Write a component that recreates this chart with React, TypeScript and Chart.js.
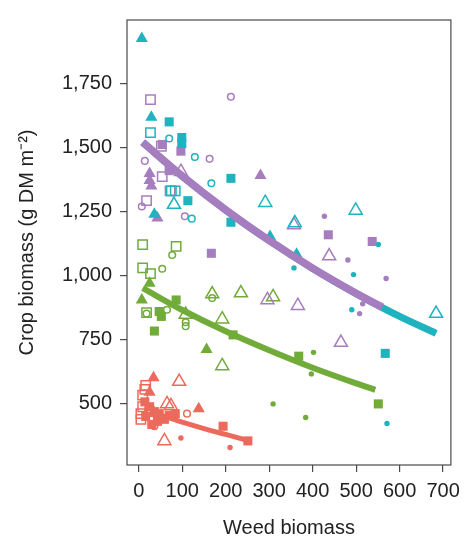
import { useEffect, useRef } from 'react';
import { Chart, registerables } from 'chart.js';

Chart.register(...registerables);

// ---------- axis ticks ----------
const xTickValues = [0, 100, 200, 300, 400, 500, 600, 700];
const yTickValues = [500, 750, 1000, 1250, 1500, 1750];

// ---------- teal group ----------
const tealFilledTriangle = [[7, 1924], [29, 1617], [36, 1239], [302, 1152], [363, 1083]];
const tealOpenTriangle = [[81, 1277], [291, 1284], [359, 1205], [499, 1254], [684, 852]];
const tealFilledSquare = [[70, 1599], [99, 1538], [99, 1515], [113, 1292], [212, 1379], [212, 1208], [567, 697]];
const tealOpenSquare = [[27, 1557], [75, 1330], [84, 1330]];
const tealOpenCircle = [[70, 1534], [129, 1462], [167, 1360], [122, 1222]];
const tealDot = [[357, 1030], [494, 1004], [551, 1121], [490, 867], [571, 424]];

// ---------- purple group ----------
const purpleFilledTriangle = [[25, 1398], [25, 1371], [29, 1349], [43, 1224], [280, 1390]];
const purpleOpenTriangle = [[97, 1405], [357, 1197], [438, 1076], [296, 905], [366, 883], [465, 739]];
const purpleFilledSquare = [[54, 1511], [97, 1485], [70, 1409], [167, 1087], [436, 1159], [537, 1133]];
const purpleOpenSquare = [[27, 1686], [52, 1504], [54, 1386], [72, 1330], [18, 1292]];
const purpleOpenCircle = [[212, 1697], [14, 1447], [163, 1455], [7, 1269], [106, 1231]];
const purpleDot = [[427, 1231], [481, 1061], [569, 989], [515, 890], [508, 852]];

// ---------- green group ----------
const greenFilledTriangle = [[25, 970], [7, 905], [156, 712]];
const greenOpenTriangle = [[108, 848], [169, 928], [192, 830], [235, 932], [309, 917], [192, 648]];
const greenFilledSquare = [[86, 905], [47, 860], [52, 841], [36, 784], [217, 769], [368, 686], [551, 500]];
const greenOpenSquare = [[9, 1121], [86, 1114], [9, 1030], [27, 1008], [18, 856]];
const greenOpenCircle = [[77, 1080], [54, 1027], [65, 867], [18, 852], [108, 818], [108, 803], [169, 913]];
const greenDot = [[309, 500], [402, 701], [397, 617], [384, 447]];

// ---------- red group ----------
const redFilledTriangle = [[34, 602], [25, 545], [138, 481]];
const redOpenTriangle = [[93, 587], [65, 500], [74, 492], [59, 356]];
const redFilledSquare = [[14, 508], [25, 489], [36, 470], [47, 462], [16, 451], [43, 432], [59, 440], [70, 455], [84, 462], [30, 420], [194, 413], [251, 356]];
const redOpenSquare = [[16, 572], [14, 557], [9, 534], [9, 489], [25, 470], [5, 462], [5, 440]];
const redOpenCircle = [[36, 413], [111, 462], [52, 448]];
const redDot = [[97, 367], [210, 330]];

// ---------- fitted curves ----------
const tealFitX = [9, 100, 200, 300, 400, 500, 600, 684];
const tealFitY = [1519, 1387, 1255, 1136, 1028, 930, 841, 775];
const purpleFitX = [9, 100, 200, 300, 400, 500, 560];
const purpleFitY = [1520, 1388, 1256, 1137, 1029, 931, 877];
const greenFitX = [9, 100, 200, 300, 400, 500, 544];
const greenFitY = [951, 866, 783, 709, 641, 580, 555];
const redFitX = [25, 50, 100, 150, 200, 250];
const redFitY = [470, 456, 429, 404, 381, 358];

const TEAL = '#1fb2bf';
const PURPLE = '#a67dbf';
const GREEN = '#71ab3a';
const RED = '#ec6a5b';

const FONT = "'Liberation Sans', Arial, Helvetica, sans-serif";

const pts = (arr: number[][]) => arr.map(([x, y]) => ({ x, y }));
const fit = (xs: number[], ys: number[]) => xs.map((x, i) => ({ x, y: ys[i] }));

function points(data: number[][], color: string, style: string, filled: boolean, radius: number) {
  return {
    type: 'scatter' as const,
    data: pts(data),
    pointStyle: style,
    pointRadius: radius,
    pointBackgroundColor: filled ? color : 'rgba(255,255,255,0)',
    pointBorderColor: color,
    pointBorderWidth: filled ? 0 : 1.5,
    showLine: false,
    order: 10,
  };
}

function group(color: string, ft: number[][], ot: number[][], fs: number[][], os: number[][], oc: number[][], dot: number[][]) {
  return [
    points(ft, color, 'triangle', true, 7),
    points(ot, color, 'triangle', false, 7.5),
    points(fs, color, 'rect', true, 6.4),
    points(os, color, 'rect', false, 6.6),
    points(oc, color, 'circle', false, 3.3),
    points(dot, color, 'circle', true, 2.7),
  ];
}

function curve(xs: number[], ys: number[], color: string, width: number, order: number) {
  return {
    type: 'line' as const,
    data: fit(xs, ys),
    borderColor: color,
    borderWidth: width,
    pointRadius: 0,
    showLine: true,
    fill: false,
    cubicInterpolationMode: 'monotone' as const,
    order,
  };
}

const boxPlugin = {
  id: 'box',
  afterDraw(chart: any) {
    const { ctx, chartArea } = chart;
    ctx.save();
    ctx.strokeStyle = '#4a4a4a';
    ctx.lineWidth = 1.2;
    ctx.strokeRect(chartArea.left, chartArea.top, chartArea.right - chartArea.left, chartArea.bottom - chartArea.top);
    ctx.restore();
  },
};

export default function App() {
  const ref = useRef<HTMLCanvasElement | null>(null);

  useEffect(() => {
    document.body.style.margin = '0';
    if (!ref.current) return;
    const datasets: any[] = [
      ...group(TEAL, tealFilledTriangle, tealOpenTriangle, tealFilledSquare, tealOpenSquare, tealOpenCircle, tealDot),
      ...group(PURPLE, purpleFilledTriangle, purpleOpenTriangle, purpleFilledSquare, purpleOpenSquare, purpleOpenCircle, purpleDot),
      ...group(GREEN, greenFilledTriangle, greenOpenTriangle, greenFilledSquare, greenOpenSquare, greenOpenCircle, greenDot),
      ...group(RED, redFilledTriangle, redOpenTriangle, redFilledSquare, redOpenSquare, redOpenCircle, redDot),
      curve(tealFitX, tealFitY, TEAL, 7, 2),
      curve(purpleFitX, purpleFitY, PURPLE, 7.6, 1),
      curve(greenFitX, greenFitY, GREEN, 6, 1),
      curve(redFitX, redFitY, RED, 5, 1),
    ];
    const chart = new Chart(ref.current, {
      type: 'scatter',
      data: { datasets },
      plugins: [boxPlugin],
      options: {
        animation: false,
        responsive: false,
        locale: 'en-US',
        layout: { padding: { left: 0, top: 7, right: 10, bottom: 0 } },
        plugins: { legend: { display: false }, tooltip: { enabled: false } },
        scales: {
          x: {
            type: 'linear',
            min: -27,
            max: 718,
            afterBuildTicks: (s: any) => { s.ticks = xTickValues.map((v) => ({ value: v })); },
            afterFit: (s: any) => { s.height = 72; },
            border: { display: false },
            grid: { drawOnChartArea: false, drawTicks: true, tickLength: 7, color: '#4a4a4a', lineWidth: 1.2 },
            ticks: { color: '#222', font: { family: FONT, size: 20 }, padding: 7, maxRotation: 0, autoSkip: false },
            title: { display: true, text: 'Weed biomass', color: '#222', font: { family: FONT, size: 20 }, padding: { top: 0, bottom: -3 } },
          },
          y: {
            type: 'linear',
            min: 262,
            max: 1996,
            afterBuildTicks: (s: any) => { s.ticks = yTickValues.map((v) => ({ value: v })); },
            afterFit: (s: any) => { s.width = 127; },
            border: { display: false },
            grid: { drawOnChartArea: false, drawTicks: true, tickLength: 7, color: '#4a4a4a', lineWidth: 1.2 },
            ticks: { color: '#222', font: { family: FONT, size: 20 }, padding: 8, autoSkip: false },
            title: { display: true, text: 'Crop biomass (g DM m⁻²)', color: '#222', font: { family: FONT, size: 20 }, padding: { top: 15, bottom: 0 } },
          },
        },
      },
    });
    return () => chart.destroy();
  }, []);

  return (
    <div style={{ width: 467, height: 537 }}>
      <canvas ref={ref} width={467} height={537} style={{ display: 'block' }} />
    </div>
  );
}
